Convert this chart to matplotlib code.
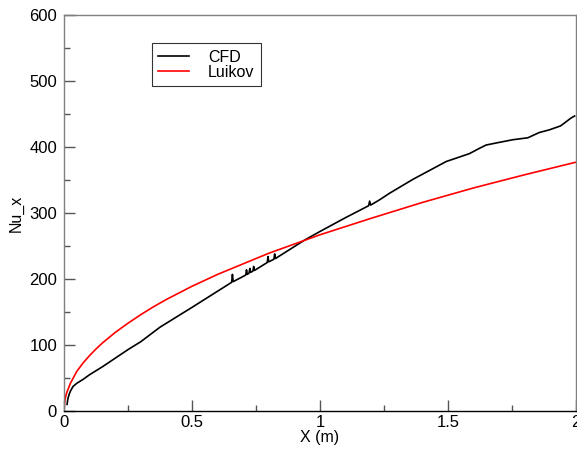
import numpy as np
import matplotlib
matplotlib.use("Agg")
import matplotlib.pyplot as plt
from matplotlib.ticker import MultipleLocator

plt.rcParams["font.family"] = ["Liberation Sans", "DejaVu Sans"]

# CFD local Nusselt number (incl. the small spikes)
x_cfd = [0.012, 0.015, 0.02, 0.025, 0.035, 0.05, 0.075, 0.1, 0.15, 0.2,
         0.25, 0.3, 0.375, 0.5, 0.655, 0.658, 0.661, 0.71, 0.713, 0.716,
         0.723, 0.726, 0.729, 0.738, 0.741, 0.744, 0.765, 0.794, 0.797, 0.8,
         0.82, 0.823, 0.826, 0.94, 1.0, 1.1, 1.19, 1.194, 1.198, 1.233,
         1.272, 1.363, 1.493, 1.584, 1.623, 1.649, 1.7, 1.753, 1.812, 1.857,
         1.896, 1.94, 1.981, 1.995]
nu_cfd = [10, 18, 25, 30, 37, 42, 48, 55, 67, 80,
          93, 105, 127, 157, 195, 207, 196, 206, 214, 207,
          209, 216, 210, 212, 219, 213, 218, 225, 234, 226,
          230, 238, 231, 259, 272, 293, 311, 318, 312, 320,
          330, 351, 378, 390, 398, 403, 407, 411, 414, 422,
          426, 432, 444, 447]

# Luikov correlation
x_luikov = [0.0, 0.002, 0.005, 0.01, 0.025, 0.05, 0.075, 0.1, 0.125, 0.15,
            0.2, 0.25, 0.3, 0.35, 0.4, 0.5, 0.6, 0.7, 0.8, 1.0, 1.2, 1.4,
            1.6, 1.8, 2.0]
nu_luikov = [0, 12, 19, 27, 42, 60, 73, 84, 94, 103,
             119, 133, 146, 158, 169, 189, 207, 223, 239, 267, 292, 316,
             338, 358, 377]

fig = plt.figure(figsize=(5.77, 4.51), dpi=100)
ax = fig.add_axes([0.1109, 0.0887, 0.8873, 0.878])

ax.plot(x_cfd, nu_cfd, color="black", lw=1.2, label="CFD")
ax.plot(x_luikov, nu_luikov, color="red", lw=1.2, label="Luikov")

ax.set_xlim(0, 2)
ax.set_ylim(0, 600)
ax.xaxis.set_major_locator(MultipleLocator(0.5))
ax.xaxis.set_minor_locator(MultipleLocator(0.25))
ax.yaxis.set_major_locator(MultipleLocator(100))
ax.yaxis.set_minor_locator(MultipleLocator(50))
ax.set_xticks([0, 0.5, 1, 1.5, 2])
ax.set_xticklabels(["0", "0.5", "1", "1.5", "2"])

ax.tick_params(which="both", direction="in", top=False, right=False,
               color="#555555", labelsize=12)
ax.tick_params(which="major", length=8, width=1)
ax.tick_params(which="minor", length=4, width=1)
ax.tick_params(axis="y", pad=5)
ax.tick_params(axis="x", pad=3)

for s in ["left", "top", "right"]:
    ax.spines[s].set_color("#808080")
ax.spines["bottom"].set_color("black")
for s in ax.spines.values():
    s.set_linewidth(1.0)

ax.set_xlabel("X (m)", fontsize=11.5, labelpad=0)
ax.set_ylabel("Nu_x", fontsize=11.5, labelpad=4)

leg = ax.legend(loc="upper left", bbox_to_anchor=(0.172, 0.929), fontsize=11.5,
                frameon=True, fancybox=False, edgecolor="black",
                handlelength=1.9, handletextpad=1.2, borderpad=0.4,
                labelspacing=0.0, borderaxespad=0)
leg.get_frame().set_linewidth(0.8)

fig.savefig("out.png", dpi=100)
